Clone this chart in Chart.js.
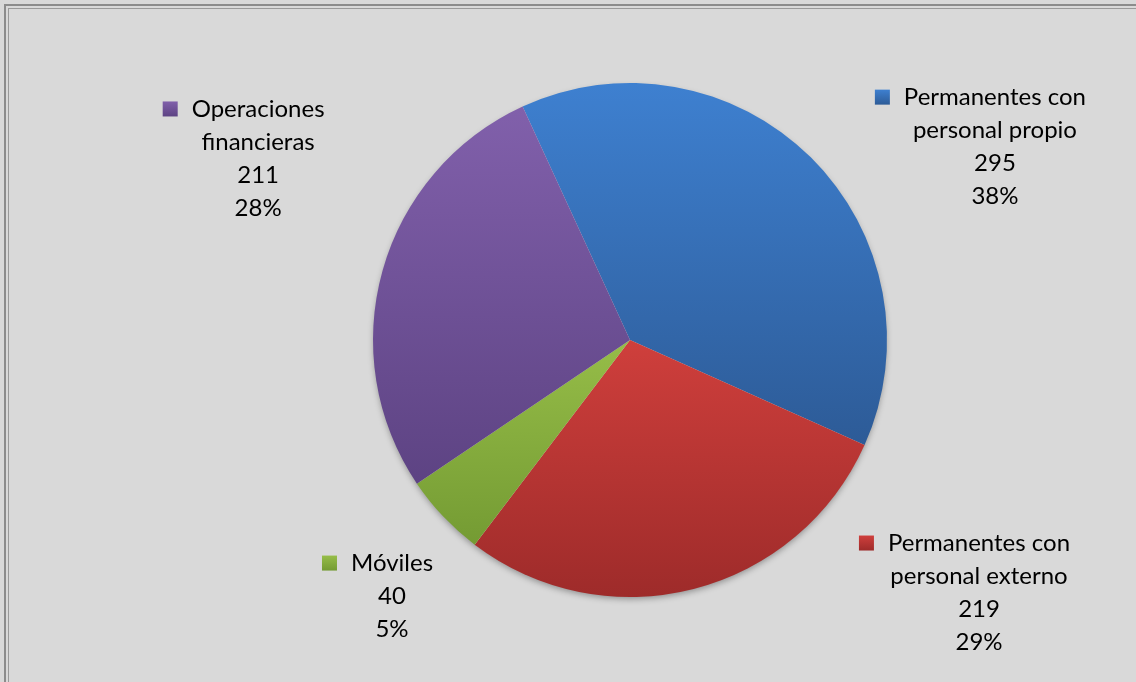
<!DOCTYPE html>
<html>
<head>
<meta charset="utf-8">
<script src="https://cdn.jsdelivr.net/npm/chart.js@4/dist/chart.umd.min.js"></script>
<style>
  html, body { margin: 0; padding: 0; background: #d9d9d9; }
  #wrap { position: relative; width: 1136px; height: 682px; overflow: hidden; }
  #frame { position: absolute; left: 4px; top: 4px; width: 1200px; height: 800px;
    border-left: 2px solid #8c8c8c; border-top: 2px solid #8c8c8c; box-sizing: border-box; }
  #frame2 { position: absolute; left: 8px; top: 8px; width: 1200px; height: 800px;
    border-left: 1px solid #9a9a9a; border-top: 1px solid #9a9a9a; box-sizing: border-box; }
  canvas { position: absolute; left: 0; top: 0; }
</style>
</head>
<body>
<div id="wrap">
  <div id="frame"></div>
  <div id="frame2"></div>
  <canvas id="myChart" width="1136" height="682"></canvas>
</div>
<script>
// data, clockwise from the blue slice
const categories = [
  ["Permanentes con", "personal propio"],
  ["Permanentes con", "personal externo"],
  ["Móviles"],
  ["Operaciones", "financieras"]
];
const values = [295, 219, 40, 211];
const percents = ["38%", "29%", "5%", "28%"];

const topColors = ["#3e80d0", "#cf3f3c", "#96bd48", "#8160ab"];
const bottomColors = ["#2d5b97", "#9e2b2a", "#749b33", "#5d4383"];
// label block anchors, in units of the pie radius from the centre
const labelAnchors = [[1.42, -0.945], [1.358, 0.79], [-0.926, 0.868], [-1.447, -0.899]];

const startDeg = -24.7;
const fontFamily = "Lato, 'Open Sans', sans-serif";

function pieGeometry(chart) {
  const a = chart.chartArea;
  return {
    cx: (a.left + a.right) / 2,
    cy: (a.top + a.bottom) / 2,
    r: Math.min(a.right - a.left, a.bottom - a.top) / 2
  };
}

// vertical gradient over each slice's own height, like the office style
function sliceGradient(context) {
  const chart = context.chart;
  const i = context.dataIndex;
  if (!chart.chartArea) return topColors[i];
  const g = pieGeometry(chart);
  const total = values.reduce((s, v) => s + v, 0);
  let before = 0;
  for (let k = 0; k < i; k++) before += values[k];
  const a0 = (startDeg - 90) * Math.PI / 180 + before / total * 2 * Math.PI;
  const a1 = a0 + values[i] / total * 2 * Math.PI;
  let ymin = g.cy, ymax = g.cy;
  for (let s = 0; s <= 60; s++) {
    const t = a0 + (a1 - a0) * s / 60;
    const y = g.cy + g.r * Math.sin(t);
    ymin = Math.min(ymin, y);
    ymax = Math.max(ymax, y);
  }
  const grad = chart.ctx.createLinearGradient(0, ymin, 0, ymax);
  grad.addColorStop(0, topColors[i]);
  grad.addColorStop(1, bottomColors[i]);
  return grad;
}

const pieExtras = {
  id: "pieExtras",
  beforeDatasetsDraw(chart) {
    // soft shadow under the pie
    const c = chart.ctx;
    const g = pieGeometry(chart);
    c.save();
    c.shadowColor = "rgba(0,0,0,0.35)";
    c.shadowBlur = 6;
    c.shadowOffsetY = 3;
    c.beginPath();
    c.arc(g.cx, g.cy, g.r - 1, 0, 2 * Math.PI);
    c.fillStyle = "#d9d9d9";
    c.fill();
    c.restore();
  },
  afterDatasetsDraw(chart) {
    const c = chart.ctx;
    const g = pieGeometry(chart);
    const lineH = 33;
    c.save();
    c.font = "24px " + fontFamily;
    c.fillStyle = "#000000";
    c.textAlign = "center";
    c.textBaseline = "middle";
    categories.forEach((cat, i) => {
      const x = g.cx + labelAnchors[i][0] * g.r;
      const y = g.cy + labelAnchors[i][1] * g.r;
      const lines = cat.concat([String(values[i]), percents[i]]);
      // legend key before the first line
      const w = c.measureText(lines[0]).width;
      const sq = 15;
      const sx = x - w / 2 - 14 - sq;
      const grad = c.createLinearGradient(0, y - sq / 2, 0, y + sq / 2);
      grad.addColorStop(0, topColors[i]);
      grad.addColorStop(1, bottomColors[i]);
      c.fillStyle = grad;
      c.fillRect(sx, y - sq / 2, sq, sq);
      c.fillStyle = "#000000";
      lines.forEach((t, k) => {
        c.fillText(t, x, y + k * lineH);
      });
    });
    c.restore();
  }
};

const ctx = document.getElementById("myChart");
const myChart = new Chart(ctx, {
  type: "pie",
  data: {
    labels: categories.map((c) => c.join(" ")),
    datasets: [{
      data: values,
      backgroundColor: sliceGradient,
      borderWidth: 0
    }]
  },
  options: {
    responsive: false,
    animation: false,
    rotation: startDeg,
    layout: { padding: { left: 373, right: 249, top: 83, bottom: 85 } },
    plugins: {
      legend: { display: false },
      tooltip: { enabled: false }
    }
  },
  plugins: [pieExtras]
});
</script>
</body>
</html>
